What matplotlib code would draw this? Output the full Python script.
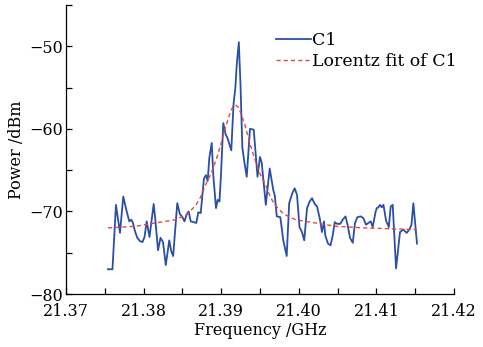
import numpy as np
import matplotlib
matplotlib.use("Agg")
import matplotlib.pyplot as plt
from matplotlib.ticker import MultipleLocator, FormatStrFormatter

freq_c1 = [21.37541, 21.37599, 21.37644, 21.37696, 21.37738, 21.37782, 21.37816, 21.37842,
           21.37863, 21.37889, 21.37919, 21.37954, 21.37986, 21.38012, 21.38040, 21.38076,
           21.38130, 21.38151, 21.38186, 21.38218, 21.38250, 21.38286, 21.38331, 21.38356,
           21.38381, 21.38434, 21.38467, 21.38501, 21.38527, 21.38557, 21.38581, 21.38607,
           21.38649, 21.38679, 21.38705, 21.38736, 21.38778, 21.38804, 21.38826, 21.38847,
           21.38878, 21.38898, 21.38933, 21.38955, 21.38978, 21.38997, 21.39027, 21.39055,
           21.39084, 21.39130, 21.39159, 21.39182, 21.39200, 21.39227, 21.39249, 21.39272,
           21.39298, 21.39329, 21.39371, 21.39419, 21.39468, 21.39500, 21.39522, 21.39575,
           21.39625, 21.39671, 21.39691, 21.39716, 21.39762, 21.39800, 21.39844, 21.39876,
           21.39916, 21.39947, 21.39977, 21.40009, 21.40041, 21.40070, 21.40106, 21.40140,
           21.40170, 21.40206, 21.40235, 21.40269, 21.40299, 21.40325, 21.40341, 21.40376,
           21.40409, 21.40437, 21.40463, 21.40492, 21.40535, 21.40566, 21.40602, 21.40628,
           21.40660, 21.40695, 21.40724, 21.40754, 21.40798, 21.40831, 21.40866, 21.40896,
           21.40927, 21.40952, 21.40988, 21.41005, 21.41025, 21.41046, 21.41068, 21.41091,
           21.41124, 21.41160, 21.41184, 21.41210, 21.41253, 21.41304, 21.41347, 21.41390,
           21.41424, 21.41452, 21.41476, 21.41523]
power_c1 = [-77.0, -77.0, -69.2, -72.6, -68.2, -70.0, -71.2, -71.0,
            -71.4, -72.4, -73.2, -73.6, -73.7, -73.1, -71.2, -73.1,
            -69.1, -71.0, -74.7, -73.2, -73.7, -76.5, -73.5, -74.8,
            -75.4, -69.0, -70.3, -70.7, -71.2, -70.3, -70.0, -71.2,
            -71.3, -71.4, -70.1, -70.2, -66.0, -65.6, -66.3, -63.5,
            -61.7, -65.6, -69.6, -68.6, -68.8, -65.6, -59.3, -60.6,
            -61.2, -62.6, -57.0, -55.1, -52.3, -49.5, -54.7, -62.2,
            -64.0, -65.8, -60.0, -60.1, -65.8, -63.4, -64.1, -69.2,
            -64.8, -67.4, -68.1, -70.6, -70.7, -73.5, -75.4, -69.0,
            -67.8, -67.2, -68.0, -71.9, -72.5, -73.5, -69.6, -68.8,
            -68.4, -69.1, -69.4, -70.8, -72.5, -71.2, -72.9, -73.9,
            -74.1, -72.9, -71.3, -71.5, -71.5, -71.0, -70.6, -71.6,
            -73.2, -73.8, -71.4, -70.7, -70.6, -70.8, -71.6, -71.4,
            -71.2, -71.9, -70.1, -69.6, -69.5, -69.2, -69.5, -69.2,
            -71.1, -71.9, -69.4, -69.2, -76.9, -72.5, -72.2, -72.6,
            -72.2, -71.6, -69.0, -73.9]

# Lorentz fit curve, sampled from the dashed line
freq_fit = [21.37541, 21.37896, 21.38024, 21.38411, 21.38566, 21.38669, 21.38733, 21.38798,
            21.38875, 21.38940, 21.39004, 21.39055, 21.39107, 21.39146, 21.39184, 21.39223,
            21.39262, 21.39314, 21.39365, 21.39430, 21.39494, 21.39571, 21.39635, 21.39700,
            21.39803, 21.39958, 21.40344, 21.40473, 21.40860, 21.41523]
power_fit = [-72.0, -71.8, -71.6, -71.0, -70.3, -69.3, -68.3, -66.8,
             -65.3, -63.6, -61.6, -59.8, -58.3, -57.4, -57.1, -57.4,
             -58.3, -59.8, -61.6, -63.6, -65.3, -66.8, -68.3, -69.3,
             -70.3, -71.0, -71.6, -71.8, -72.0, -72.2]

plt.rcParams['font.family'] = 'DejaVu Serif'
plt.rcParams['font.size'] = 11.5

fig = plt.figure(figsize=(4.83, 3.47), dpi=100)
ax = fig.add_axes([0.1366, 0.1527, 0.8034, 0.8329])

ax.plot(freq_c1, power_c1, color='#2b4fa6', lw=1.3, label='C1')
ax.plot(freq_fit, power_fit, color='#e8463e', lw=1.0, dashes=(3, 2.2),
        label='Lorentz fit of C1')

ax.set_xlim(21.37, 21.42)
ax.set_ylim(-80, -45)
ax.xaxis.set_major_locator(MultipleLocator(0.01))
ax.xaxis.set_minor_locator(MultipleLocator(0.005))
ax.xaxis.set_major_formatter(FormatStrFormatter('%.2f'))
ax.yaxis.set_major_locator(MultipleLocator(10))
ax.yaxis.set_minor_locator(MultipleLocator(5))
ax.tick_params(which='both', direction='in', length=4, width=0.9)
ax.tick_params(axis='x', pad=6.5)
ax.tick_params(axis='y', pad=2)

for side in ['top', 'right']:
    ax.spines[side].set_visible(False)
for side in ['left', 'bottom']:
    ax.spines[side].set_linewidth(0.9)

ax.set_xlabel('Frequency /GHz', labelpad=1.5)
ax.set_ylabel('Power /dBm', labelpad=3)

fig.legend(loc='upper left', bbox_to_anchor=(0.553, 0.934), frameon=False,
           fontsize=12.5, handlelength=2.0, handletextpad=0.1, borderpad=0,
           labelspacing=0.25)

fig.savefig('out.png', dpi=100)
